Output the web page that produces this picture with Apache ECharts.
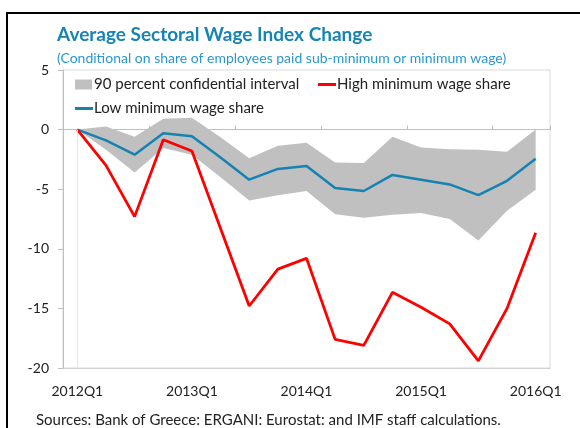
<!DOCTYPE html>
<html>
<head>
<meta charset="utf-8">
<script src="https://cdn.jsdelivr.net/npm/echarts@6/dist/echarts.min.js"></script>
<style>
  html, body { margin: 0; padding: 0; background: #fff; }
  #chart { width: 580px; height: 428px; }
</style>
</head>
<body>
<div id="chart"></div>
<script>
// quarters 2012Q1 .. 2016Q1
const quarters = [
  "2012Q1", "2012Q2", "2012Q3", "2012Q4",
  "2013Q1", "2013Q2", "2013Q3", "2013Q4",
  "2014Q1", "2014Q2", "2014Q3", "2014Q4",
  "2015Q1", "2015Q2", "2015Q3", "2015Q4",
  "2016Q1"
];
const lowShare = [0, -0.9, -2.1, -0.3, -0.55, -2.35, -4.2, -3.3, -3.05, -4.9, -5.15, -3.8, -4.2, -4.6, -5.5, -4.3, -2.45];
const highShare = [0, -3.0, -7.3, -0.85, -1.8, -8.3, -14.8, -11.7, -10.8, -17.6, -18.1, -13.65, -14.9, -16.3, -19.4, -15.0, -8.65];
const bandUpper = [0, 0.25, -0.6, 0.9, 1.0, -0.65, -2.4, -1.35, -1.1, -2.75, -2.8, -0.6, -1.5, -1.65, -1.7, -1.85, 0];
const bandLower = [0, -1.7, -3.6, -1.55, -2.1, -4.0, -5.95, -5.5, -5.15, -7.1, -7.4, -7.15, -7.0, -7.5, -9.3, -6.8, -5.05];
const yTicks = { min: -20, max: 5, step: 5 };

const bandWidth = bandUpper.map((u, i) => +(u - bandLower[i]).toFixed(2));

const chart = echarts.init(document.getElementById("chart"));
const font = "Lato, 'Noto Sans', sans-serif";

const option = {
  animation: false,
  textStyle: { fontFamily: font },
  title: [
    {
      text: "Average Sectoral Wage Index Change",
      left: 52, top: 20,
      textStyle: { fontFamily: font, fontSize: 19, fontWeight: "bold", color: "#1784b4" }
    },
    {
      text: "(Conditional on share of employees paid sub-minimum or minimum wage)",
      left: 52, top: 46,
      textStyle: { fontFamily: font, fontSize: 14, fontWeight: "normal", color: "#2a98cf" }
    },
    {
      text: "Sources: Bank of Greece: ERGANI: Eurostat: and IMF staff calculations.",
      left: 31, top: 408,
      textStyle: { fontFamily: font, fontSize: 15, fontWeight: "normal", color: "#222" }
    }
  ],
  legend: [
    {
      data: [{ name: "90 percent confidential interval", icon: "rect" }],
      left: 70, top: 72, itemWidth: 17, itemHeight: 10, itemGap: 0,
      textStyle: { fontSize: 15, color: "#222", padding: [0, 0, 0, -3] }
    },
    {
      data: [{ name: "High minimum wage share", icon: "rect" }],
      left: 313, top: 72, itemWidth: 18, itemHeight: 3,
      textStyle: { fontSize: 15, color: "#222", padding: [0, 0, 0, -4] }
    },
    {
      data: [{ name: "Low minimum wage share", icon: "rect" }],
      left: 70, top: 96, itemWidth: 18, itemHeight: 3,
      textStyle: { fontSize: 15, color: "#222", padding: [0, 0, 0, -4] }
    }
  ],
  grid: {
    left: 63, right: 30, top: 70, bottom: 60,
    show: true, borderColor: "#d9d9d9", borderWidth: 1
  },
  xAxis: [
    {
      type: "category",
      data: quarters,
      position: "bottom",
      axisLine: { onZero: false, lineStyle: { color: "#d0d0d0" } },
      axisTick: { show: false },
      axisLabel: { interval: 3, fontSize: 14, color: "#222", margin: 16 }
    },
    {
      type: "category",
      data: quarters,
      position: "bottom",
      axisLine: { onZero: true, lineStyle: { color: "#bfbfbf", width: 1 } },
      axisTick: { show: true, inside: true, length: 4, lineStyle: { color: "#bfbfbf" } },
      axisLabel: { show: false }
    }
  ],
  yAxis: {
    type: "value",
    min: yTicks.min, max: yTicks.max, interval: yTicks.step,
    splitLine: { show: false },
    axisLine: { show: true, lineStyle: { color: "#bfbfbf" } },
    axisTick: { show: true, length: 5, lineStyle: { color: "#bfbfbf" } },
    axisLabel: { fontSize: 14, color: "#222", margin: 14 }
  },
  series: [
    {
      name: "band base",
      type: "line",
      data: bandLower,
      stack: "band",
      stackStrategy: "all",
      symbol: "none",
      lineStyle: { width: 0 },
      silent: true,
      markLine: {
        silent: true,
        symbol: "none",
        label: { show: false },
        lineStyle: { color: "#e4e4e4", width: 1, type: "solid" },
        data: [[{ coord: [quarters[0], 0] }, { coord: [quarters[0], yTicks.min] }]]
      }
    },
    {
      name: "90 percent confidential interval",
      type: "line",
      data: bandWidth,
      stack: "band",
      stackStrategy: "all",
      symbol: "none",
      lineStyle: { width: 0 },
      itemStyle: { color: "#c0c0c0" },
      areaStyle: { color: "#c0c0c0", opacity: 1 }
    },
    {
      name: "Low minimum wage share",
      type: "line",
      data: lowShare,
      symbol: "none",
      itemStyle: { color: "#1682b2" },
      lineStyle: { color: "#1682b2", width: 2.5 }
    },
    {
      name: "High minimum wage share",
      type: "line",
      data: highShare,
      symbol: "none",
      itemStyle: { color: "#ff0000" },
      lineStyle: { color: "#ff0000", width: 2.8 }
    }
  ],
  graphic: [
    { type: "line", shape: { x1: 7, y1: 13, x2: 7, y2: 428 }, style: { stroke: "#000", lineWidth: 2 } },
    { type: "line", shape: { x1: 6, y1: 13, x2: 580, y2: 13 }, style: { stroke: "#000", lineWidth: 2 } }
  ]
};

chart.setOption(option);
</script>
</body>
</html>
